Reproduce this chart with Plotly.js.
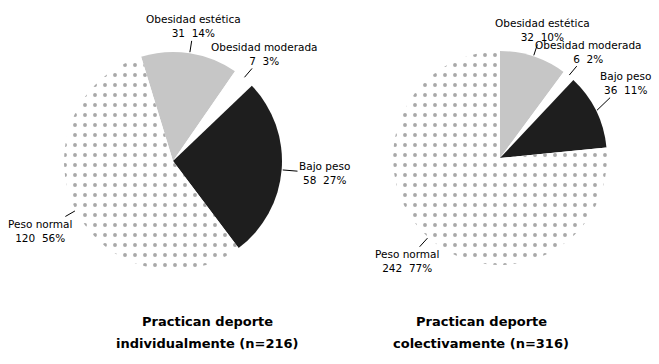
<!DOCTYPE html>
<html><head><meta charset="utf-8">
<script src="https://cdn.plot.ly/plotly-3.0.1.min.js"></script>
<style>html,body{margin:0;padding:0;background:#fff}#chart{width:659px;height:364px}</style>
</head><body><div id="chart"></div>
<script>
const categories = ["Obesidad estética", "Obesidad moderada", "Bajo peso", "Peso normal"];
const individualValues = [31, 7, 58, 120];
const individualPercents = [14, 3, 27, 56];
const collectiveValues = [32, 6, 36, 242];
const collectivePercents = [10, 2, 11, 77];
const individualTitle = ["Practican deporte", "individualmente (n=216)"];
const collectiveTitle = ["Practican deporte", "colectivamente (n=316)"];

const W = 659, H = 364;
const sliceColors = ["#c6c6c6", "#ffffff", "#1e1e1e", "#f1f1f1"];
const labelFont = {family: "DejaVu Sans", size: 10.5, color: "#000"};
const titleFont = {family: "DejaVu Sans", size: 13, color: "#000", weight: "bold"};

const pies = [
  {values: individualValues, pct: individualPercents, cx: 173, cy: 161, r: 109, rot: -17, title: individualTitle, tx: 207},
  {values: collectiveValues, pct: collectivePercents, cx: 500, cy: 158, r: 107, rot: 0, title: collectiveTitle, tx: 481}
];

const data = [];
const annotations = [];
pies.forEach(p => {
  data.push({
    type: "pie",
    labels: categories,
    values: p.values,
    sort: false,
    direction: "clockwise",
    rotation: p.rot,
    textinfo: "none",
    hoverinfo: "skip",
    showlegend: false,
    domain: {x: [(p.cx - p.r) / W, (p.cx + p.r) / W], y: [1 - (p.cy + p.r) / H, 1 - (p.cy - p.r) / H]},
    marker: {
      colors: sliceColors,
      line: {width: 0},
      pattern: {
        shape: ["", "", "", "."],
        fgcolor: ["#999", "#fff", "#000", "#a8a8a8"],
        size: 10,
        solidity: 0.12
      }
    }
  });
  const total = p.values.reduce((a, b) => a + b, 0);
  let cum = 0;
  p.values.forEach((v, i) => {
    const th = (p.rot + 360 * (cum + v / 2) / total) * Math.PI / 180;
    cum += v;
    const sx = Math.sin(th), sy = -Math.cos(th);
    const px = p.cx + p.r * 1.01 * sx, py = p.cy + p.r * 1.01 * sy;
    const text = categories[i] + "<br>" + p.values[i] + "  " + p.pct[i] + "%";
    const hw = categories[i].length * 3.2 + 2, hh = 15;
    const L = 11;
    const t = Math.min(Math.abs(sx) > 1e-6 ? hw / Math.abs(sx) : 1e9, Math.abs(sy) > 1e-6 ? hh / Math.abs(sy) : 1e9);
    const d = L + t;
    let lx = px + sx * d, ly = py + sy * d;
    if (lx > W - hw - 3) { ly -= (lx - (W - hw - 3)) * 0.6; lx = W - hw - 3; }
    if (lx < hw + 3) { lx = hw + 3; }
    annotations.push({
      xref: "paper", yref: "paper", x: px / W, y: 1 - py / H,
      ax: lx - px, ay: ly - py,
      text: text, showarrow: true, arrowhead: 0, arrowwidth: 1, arrowcolor: "#000",
      font: labelFont, align: "center"
    });
  });
  annotations.push({xref: "paper", yref: "paper", x: p.tx / W, y: 1 - 321 / H, text: p.title[0], showarrow: false, font: titleFont, xanchor: "center", yanchor: "middle"});
  annotations.push({xref: "paper", yref: "paper", x: p.tx / W, y: 1 - 343 / H, text: p.title[1], showarrow: false, font: titleFont, xanchor: "center", yanchor: "middle"});
});

Plotly.newPlot("chart", data, {
  width: W, height: H,
  margin: {l: 0, r: 0, t: 0, b: 0},
  paper_bgcolor: "#fff",
  annotations: annotations
}, {staticPlot: true, displayModeBar: false});
</script></body></html>
